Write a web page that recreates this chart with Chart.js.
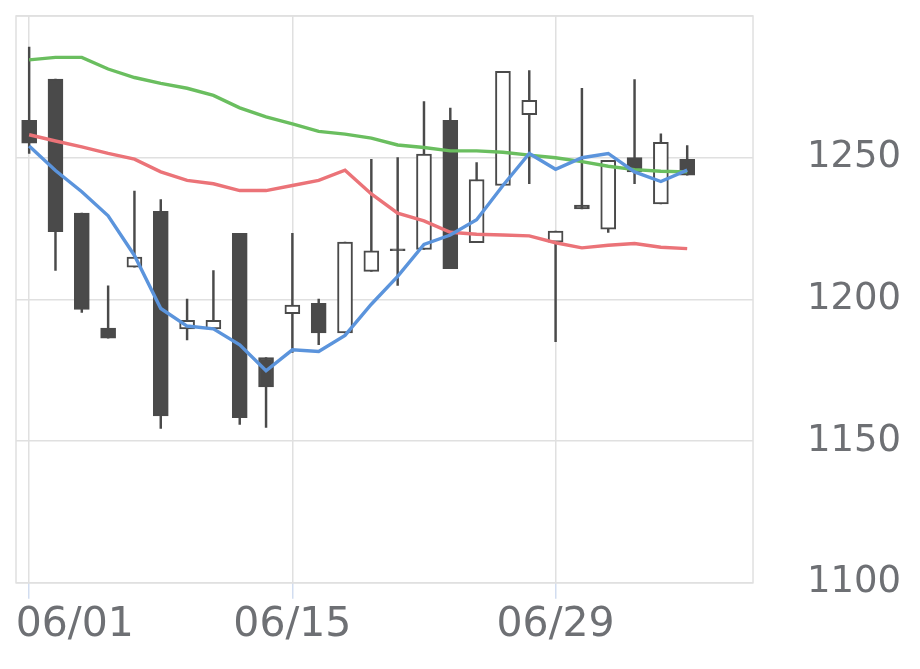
<!DOCTYPE html>
<html>
<head>
<meta charset="utf-8">
<script src="https://cdn.jsdelivr.net/npm/chart.js@4/dist/chart.umd.min.js"></script>
<style>
html,body{margin:0;padding:0;background:#ffffff;}
#wrap{width:920px;height:669px;}
</style>
</head>
<body>
<div id="wrap"><canvas id="c" width="920" height="669"></canvas></div>
<script>
// Trading days (two trailing empty slots)
const dates = ["06/01","06/02","06/03","06/04","06/05","06/08","06/09","06/10","06/11","06/12",
               "06/15","06/16","06/17","06/18","06/19","06/22","06/23","06/24","06/25","06/26",
               "06/29","06/30","07/01","07/02","07/03","07/06","07/07","07/08"];
const opens  = [1263.2,1277.7,1230.5,1189.9,1211.4,1231.1,1189.6,1189.6,1223.3,1179.5,
                1195.0,1198.6,1188.2,1209.9,1217.8,1217.6,1263.2,1220.0,1240.2,1265.2,
                1220.2,1233.3,1224.8,1250.0,1233.7,1249.4];
const highs  = [1289.0,1277.7,1230.5,1204.8,1238.2,1235.2,1200.1,1210.2,1223.3,1179.5,
                1223.3,1200.1,1220.2,1249.4,1250.0,1269.8,1267.5,1248.3,1280.5,1280.7,
                1224.1,1274.5,1249.1,1277.6,1258.4,1254.3];
const lows   = [1251.5,1210.2,1195.4,1186.3,1211.4,1154.5,1185.7,1189.6,1155.9,1154.8,
                1181.3,1184.0,1188.2,1209.9,1204.9,1217.6,1210.8,1220.0,1240.2,1240.8,
                1185.1,1231.9,1223.6,1240.8,1233.7,1243.8];
const closes = [1255.1,1223.9,1196.5,1186.3,1214.9,1158.9,1192.6,1192.6,1158.3,1169.1,
                1198.0,1188.2,1220.2,1217.1,1217.2,1251.3,1210.8,1242.3,1280.5,1270.2,
                1224.1,1231.9,1249.1,1245.0,1255.4,1243.8];
const ma5  = [1254.1,1245.5,1238.0,1229.5,1215.5,1196.8,1190.6,1189.6,1184.0,1174.8,
              1182.2,1181.6,1187.3,1198.3,1208.1,1219.4,1222.7,1228.1,1240.2,1251.5,
              1245.9,1250.0,1251.5,1245.0,1241.6,1245.6];
const ma25 = [1258.1,1255.9,1253.8,1251.5,1249.5,1245.0,1242.0,1240.8,1238.4,1238.4,
              1240.2,1242.0,1245.6,1237.2,1230.4,1227.7,1223.7,1223.0,1222.7,1222.4,
              1220.0,1218.2,1219.1,1219.7,1218.4,1217.9];
const ma75 = [1284.5,1285.4,1285.4,1281.3,1278.3,1276.2,1274.5,1272.0,1267.6,1264.4,
              1261.9,1259.3,1258.3,1256.9,1254.5,1253.6,1252.4,1252.4,1251.9,1250.9,
              1250.0,1248.6,1247.0,1245.8,1245.2,1245.0];
const yTicks = [1100,1150,1200,1250];
const labelEvery = 10;

const FONT = "'DejaVu Sans', sans-serif";
const DARK = '#4a4a4a';
const TEXT = '#6e7074';
const GRID = '#e0e0e0';

const bodies = opens.map((o,i)=>[o, closes[i]]);
const wicks  = lows.map((l,i)=>[l, highs[i]]);
const bodyFill = opens.map((o,i)=> closes[i] >= o ? '#ffffff' : DARK);

const borderPlugin = {
  id:'frame',
  beforeDatasetsDraw(chart){
    const {ctx, chartArea:a} = chart;
    ctx.save();
    ctx.strokeStyle = GRID;
    ctx.lineWidth = 1.5;
    ctx.strokeRect(a.left, a.top, a.right-a.left, a.bottom-a.top);
    ctx.restore();
  }
};

new Chart(document.getElementById('c').getContext('2d'), {
  type:'bar',
  data:{
    labels: dates,
    datasets:[
      {type:'line', label:'MA5', data:ma5, borderColor:'#5b94dc', borderWidth:3.4, pointRadius:0, tension:0, fill:false, order:0},
      {type:'line', label:'MA25', data:ma25, borderColor:'#eb7378', borderWidth:3.4, pointRadius:0, tension:0, fill:false, order:0},
      {type:'line', label:'MA75', data:ma75, borderColor:'#6abe5f', borderWidth:3.4, pointRadius:0, tension:0, fill:false, order:0},
      {label:'body', data:bodies, backgroundColor:bodyFill, borderColor:DARK, borderWidth:2, borderSkipped:false, barThickness:15, grouped:false, order:1},
      {label:'wick', data:wicks, backgroundColor:DARK, borderWidth:0, barThickness:1.8, grouped:false, order:2}
    ]
  },
  options:{
    responsive:false,
    animation:false,
    devicePixelRatio:1,
    layout:{padding:{left:16, top:16, right:0, bottom:17}},
    plugins:{legend:{display:false}, tooltip:{enabled:false}},
    scales:{
      x:{
        offset:true,
        grid:{
          offset:false,
          lineWidth:1.5,
          tickLength:16,
          color: c => (c.index % labelEvery === 0) ? GRID : 'rgba(0,0,0,0)',
          tickColor: c => (c.index % labelEvery === 0) ? '#d2ddf0' : 'rgba(0,0,0,0)'
        },
        border:{display:false},
        ticks:{
          autoSkip:false, maxRotation:0, minRotation:0, padding:2,
          font:{family:FONT, size:41}, color:TEXT,
          callback:(v,i)=> i===0 ? '\u00a0'.repeat(7)+dates[i] : (i % labelEvery === 0 ? dates[i] : '')
        },
        afterFit:s=>{ s.paddingLeft = 0; s.paddingRight = 0; }
      },
      y:{
        position:'right',
        min:1100, max:1300,
        afterBuildTicks: s => { s.ticks = yTicks.concat([1300]).map(v=>({value:v})); },
        grid:{color:GRID, lineWidth:1.5, drawTicks:false},
        border:{display:false},
        ticks:{
          padding:54,
          font:{family:FONT, size:37}, color:TEXT,
          callback: v => yTicks.includes(v) ? String(v) : ''
        },
        afterFit:s=>{ s.width = 167; s.paddingTop = 0; s.paddingBottom = 0; }
      }
    }
  },
  plugins:[borderPlugin]
});
</script>
</body>
</html>
